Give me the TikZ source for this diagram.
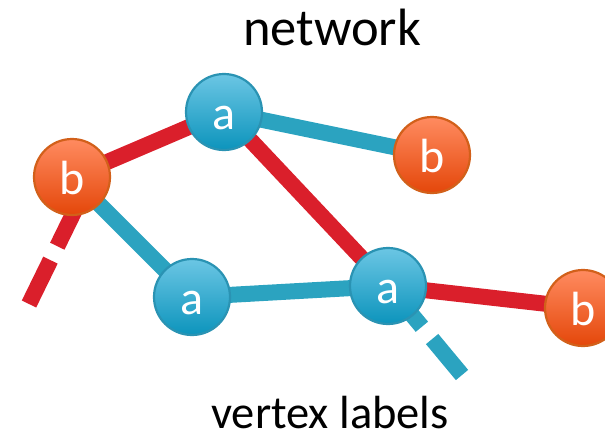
\documentclass[tikz,border=0pt]{standalone}
\usepackage{fontspec}
\setmainfont{Carlito}
\usetikzlibrary{backgrounds,calc}
\definecolor{edgered}{HTML}{DA1F2B}
\definecolor{edgecyan}{HTML}{2BA3C0}
\definecolor{atop}{HTML}{6BC6E4}
\definecolor{abot}{HTML}{0C94BC}
\definecolor{aborder}{HTML}{2A93B3}
\definecolor{btop}{HTML}{FF8B60}
\definecolor{bbot}{HTML}{E4470A}
\definecolor{bborder}{HTML}{D2601A}
\begin{document}
\begin{tikzpicture}[x=1pt,y=-1pt,
  vert/.style={circle, minimum size=76pt, inner sep=0pt, line width=2.2pt, text=white,
    text height=34pt, text depth=0pt, font=\fontsize{48}{48}\selectfont},
  vA/.style={vert, draw=aborder, top color=atop, bottom color=abot},
  vB/.style={vert, draw=bborder, top color=btop, bottom color=bbot},
  redline/.style={line width=16pt, draw=edgered},
  cyanline/.style={line width=16pt, draw=edgecyan},
  titletext/.style={anchor=base, text=black, inner sep=0pt, text depth=0pt}]
\path[use as bounding box] (0,0) rectangle (605,440);
\clip (0,0) rectangle (605,440);
\node[vA] (a1) at (224,112) {a};
\node[vB] (b1) at (72,177) {b};
\node[vB] (b2) at (432,155) {b};
\node[vA] (a2) at (192,297) {a};
\node[vA] (a3) at (388,286) {a};
\node[vB] (b3) at (583,308) {b};
\coordinate (r1) at (29,304);
\coordinate (c1) at (462,375);
\node[titletext, font=\fontsize{52.5}{52.5}\selectfont] (t1) at (332,45) {network};
\node[titletext, font=\fontsize{46.5}{46.5}\selectfont] (t2) at (330,428) {vertex labels};
\begin{scope}[on background layer]
  \draw[redline] (b1.center) -- (a1.center);
  \draw[cyanline] (a1.center) -- (b2.center);
  \draw[redline] (a1.center) -- (a3.center);
  \draw[cyanline] (b1.center) -- (a2.center);
  \draw[cyanline] (a2.center) -- (a3.center);
  \draw[redline] (a3.center) -- (b3.center);
  \draw[redline, dash pattern=on 53.5pt off 15.5pt on 200pt] ($(b1.south)!-20pt!(r1)$) -- (r1);
  \draw[cyanline, dash pattern=on 53pt off 16pt on 200pt] (a3.center) -- (c1);
\end{scope}
\end{tikzpicture}
\end{document}
